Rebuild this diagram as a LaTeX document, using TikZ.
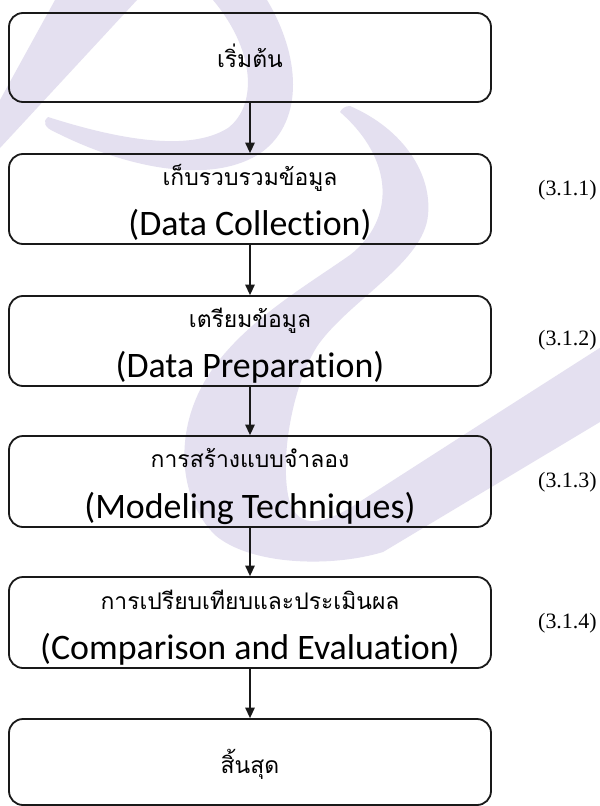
\documentclass[tikz,border=0pt]{standalone}
\usepackage{fontspec}
\setmainfont{Liberation Serif}
\newfontfamily\thaifont[Script=Thai]{Loma}
\newfontfamily\engfont[Ligatures=NoCommon]{Carlito}
\usetikzlibrary{arrows.meta}
\definecolor{wm}{RGB}{228,224,240}
\definecolor{ink}{RGB}{25,25,25}
\begin{document}
\begin{tikzpicture}[x=1bp,y=-1bp,
  stepbox/.style={draw=ink,line width=1.8bp,rounded corners=14bp,minimum width=482bp,inner sep=0pt},
  thtext/.style={anchor=base,inner sep=0pt,font=\thaifont\fontsize{23}{28}\selectfont},
  entext/.style={anchor=base,inner sep=0pt,font=\engfont\fontsize{36}{40}\selectfont},
  numtext/.style={anchor=west,inner sep=0pt,font=\fontsize{22}{26}\selectfont},
  flow/.style={draw=ink,line width=1.3bp,-{Triangle[length=10.5bp,width=9.5bp]}},
  wmark/.style={fill=wm}]
\fill[white] (0,0) rectangle (600,806);
\useasboundingbox (0,0) rectangle (600,806);
% watermark
\begin{scope}
\clip (0,0) rectangle (600,806);
\fill[wmark] (55,0) -- (137,0) -- (0,148) -- (0,100) -- cycle;
\fill[wmark] (213,0) .. controls (255,50) and (258,105) .. (228,128)
  .. controls (190,152) and (120,140) .. (48,117)
  .. controls (42,122) and (45,128) .. (55,132)
  .. controls (130,170) and (215,185) .. (262,152)
  .. controls (305,120) and (300,55) .. (267,0) -- cycle;
\fill[wmark] (350,106) .. controls (405,130) and (432,175) .. (428,215)
  .. controls (424,262) and (350,300) .. (318,345)
  .. controls (295,380) and (280,450) .. (288,495)
  .. controls (295,530) and (320,525) .. (350,508)
  -- (487,420) -- (620,335) -- (620,410) -- (383,552)
  .. controls (330,568) and (250,565) .. (215,535)
  .. controls (180,500) and (175,440) .. (200,390)
  .. controls (230,330) and (300,290) .. (350,255)
  .. controls (395,220) and (395,160) .. (340,112)
  .. controls (342,108) and (346,106) .. (350,106) -- cycle;
\end{scope}
% boxes
\node[stepbox,minimum height=89bp] (b1) at (250,57.5) {};
\node[stepbox,minimum height=90bp] (b2) at (250,199) {};
\node[stepbox,minimum height=90bp] (b3) at (250,341) {};
\node[stepbox,minimum height=91bp] (b4) at (250,481.5) {};
\node[stepbox,minimum height=91bp] (b5) at (250,622.5) {};
\node[stepbox,minimum height=86bp] (b6) at (250,762) {};
% texts
\node[thtext] (t1) at (250,68) {เริ่มต้น};
\node[thtext] (t2a) at (250,185) {เก็บรวบรวมข้อมูล};
\node[entext] (t2b) at (250,235) {(Data Collection)};
\node[thtext] (t3a) at (250,327) {เตรียมข้อมูล};
\node[entext] (t3b) at (250,377) {(Data Preparation)};
\node[thtext] (t4a) at (250,467) {การสร้างแบบจำลอง};
\node[entext] (t4b) at (250,518) {(Modeling Techniques)};
\node[thtext] (t5a) at (250,609) {การเปรียบเทียบและประเมินผล};
\node[entext] (t5b) at (250,659) {(Comparison and Evaluation)};
\node[thtext] (t6) at (250,773) {สิ้นสุด};
% labels
\node[numtext] (n1) at (538,190) {(3.1.1)};
\node[numtext] (n2) at (538,340) {(3.1.2)};
\node[numtext] (n3) at (538,482) {(3.1.3)};
\node[numtext] (n4) at (538,623) {(3.1.4)};
% arrows
\draw[flow] (b1) -- (b2);
\draw[flow] (b2) -- (b3);
\draw[flow] (b3) -- (b4);
\draw[flow] (b4) -- (b5);
\draw[flow] (b5) -- (b6);
\end{tikzpicture}
\end{document}
